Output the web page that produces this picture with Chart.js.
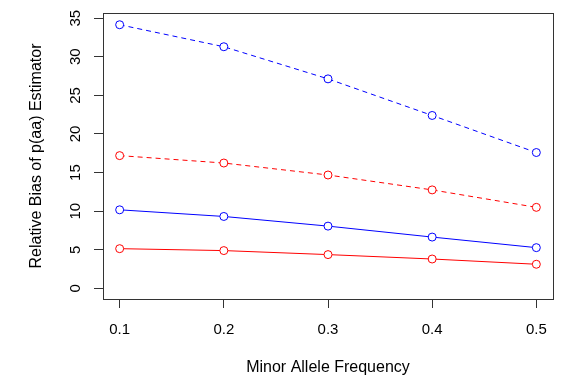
<!DOCTYPE html>
<html>
<head>
<meta charset="utf-8">
<script src="https://cdn.jsdelivr.net/npm/chart.js@4.4.0/dist/chart.umd.min.js"></script>
<style>
  html, body { margin: 0; padding: 0; background: #fff; }
  #wrap { width: 582px; height: 389px; }
</style>
</head>
<body>
<div id="wrap"><canvas id="c" width="582" height="389"></canvas></div>
<script>
// data
var freq = [0.1, 0.2, 0.3, 0.4, 0.5];
var blueDashed = [34.15, 31.3, 27.14, 22.4, 17.6];
var redDashed = [17.2, 16.24, 14.69, 12.76, 10.5];
var blueSolid = [10.18, 9.32, 8.07, 6.65, 5.28];
var redSolid = [5.15, 4.9, 4.38, 3.81, 3.13];

var xTicks = [0.1, 0.2, 0.3, 0.4, 0.5];
var yTicks = [0, 5, 10, 15, 20, 25, 30, 35];
var xTitle = "Minor Allele Frequency";
var yTitle = "Relative Bias of p(aa) Estimator";

var FONT = '"Liberation Sans", Arial, Helvetica, sans-serif';

function pts(ys) {
  return freq.map(function (f, i) { return { x: f, y: ys[i] }; });
}

function series(ys, color, dashed) {
  return {
    data: pts(ys),
    borderColor: color,
    backgroundColor: "#fff",
    borderWidth: 1,
    borderDash: dashed ? [5, 4] : [],
    pointStyle: "circle",
    pointRadius: 4,
    pointBorderColor: color,
    pointBackgroundColor: "#fff",
    pointBorderWidth: 1,
    tension: 0
  };
}

// box, rotated y labels and axis titles, drawn off the chart's scales
var rPlot = {
  id: "rPlot",
  afterDraw: function (chart) {
    var ctx = chart.ctx;
    var a = chart.chartArea;
    var ys = chart.scales.y;
    ctx.save();
    ctx.strokeStyle = "#333";
    ctx.lineWidth = 1;
    ctx.strokeRect(Math.round(a.left) + 0.5, Math.round(a.top) + 0.5,
      Math.round(a.right - a.left), Math.round(a.bottom - a.top));

    ctx.fillStyle = "#000";
    ctx.font = "15px " + FONT;
    ctx.textAlign = "center";
    ctx.textBaseline = "middle";
    yTicks.forEach(function (v) {
      var py = ys.getPixelForValue(v);
      ctx.save();
      ctx.translate(76, py);
      ctx.rotate(-Math.PI / 2);
      ctx.fillText(String(v), 0, 0);
      ctx.restore();
    });

    ctx.font = "16px " + FONT;
    ctx.save();
    ctx.translate(37, (a.top + a.bottom) / 2);
    ctx.rotate(-Math.PI / 2);
    ctx.fillText(yTitle, 0, 0);
    ctx.restore();

    ctx.fillText(xTitle, (a.left + a.right) / 2, 368);
    ctx.restore();
  }
};

new Chart(document.getElementById("c"), {
  type: "line",
  data: {
    datasets: [
      series(blueDashed, "#0000ff", true),
      series(redDashed, "#ff0000", true),
      series(blueSolid, "#0000ff", false),
      series(redSolid, "#ff0000", false)
    ]
  },
  options: {
    responsive: false,
    animation: false,
    layout: { padding: { top: 13, right: 29, left: 0, bottom: 0 } },
    plugins: { legend: { display: false }, tooltip: { enabled: false } },
    scales: {
      x: {
        type: "linear",
        min: 0.084,
        max: 0.516,
        afterBuildTicks: function (s) {
          s.ticks = xTicks.map(function (v) { return { value: v }; });
        },
        afterFit: function (s) { s.height = 90; },
        grid: { drawOnChartArea: false, tickLength: 9, color: "#333", lineWidth: 1 },
        border: { display: false },
        ticks: {
          color: "#000",
          font: { family: FONT, size: 15 },
          padding: 13,
          maxRotation: 0,
          autoSkip: false,
          callback: function (v) { return v.toFixed(1); }
        }
      },
      y: {
        min: -1.37,
        max: 35.67,
        afterBuildTicks: function (s) {
          s.ticks = yTicks.map(function (v) { return { value: v }; });
        },
        afterFit: function (s) { s.width = 103; },
        grid: { drawOnChartArea: false, tickLength: 9, color: "#333", lineWidth: 1 },
        border: { display: false },
        ticks: { display: false }
      }
    }
  },
  plugins: [rPlot]
});
</script>
</body>
</html>
